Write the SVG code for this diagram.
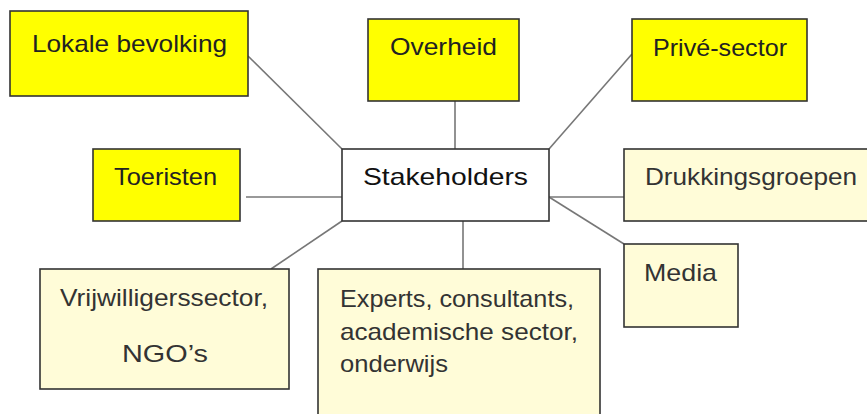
<svg xmlns="http://www.w3.org/2000/svg" width="867" height="414" viewBox="0 0 867 414">
<style>
.box{stroke:#333;stroke-width:1.6}
.y{fill:#ffff00}
.p{fill:#fffcd8}
.w{fill:#ffffff}
.c{stroke:#777;stroke-width:1.6;fill:none}
text{font-family:"Liberation Sans",Arial,sans-serif;font-size:24px;fill:#222}
.m{text-anchor:middle}
.g{fill:#333}
</style>
<rect width="867" height="414" fill="#ffffff"/>
<g id="connectors">
<line class="c" x1="248" y1="56" x2="342" y2="149"/>
<line class="c" x1="455" y1="101" x2="455" y2="149"/>
<line class="c" x1="549" y1="149" x2="632" y2="54"/>
<line class="c" x1="246" y1="197" x2="342" y2="197"/>
<line class="c" x1="549" y1="197" x2="624" y2="197"/>
<line class="c" x1="549" y1="197" x2="624" y2="244"/>
<line class="c" x1="342" y1="221" x2="271" y2="269"/>
<line class="c" x1="463" y1="221" x2="463" y2="269"/>
</g>
<g id="lokale">
<rect class="box y" x="10" y="11" width="238" height="85"/>
<text class="m" x="129.5" y="52" textLength="195" lengthAdjust="spacingAndGlyphs">Lokale bevolking</text>
</g>
<g id="overheid">
<rect class="box y" x="368" y="19" width="151" height="82"/>
<text class="m" x="443.5" y="55" textLength="107" lengthAdjust="spacingAndGlyphs">Overheid</text>
</g>
<g id="prive">
<rect class="box y" x="632" y="19" width="175" height="82"/>
<text class="m" x="720" y="56" textLength="134" lengthAdjust="spacingAndGlyphs">Privé-sector</text>
</g>
<g id="toeristen">
<rect class="box y" x="93" y="149" width="147" height="72"/>
<text class="m" x="165.5" y="185" textLength="103" lengthAdjust="spacingAndGlyphs">Toeristen</text>
</g>
<g id="stakeholders">
<rect class="box w" x="342" y="149" width="207" height="72"/>
<text class="m" x="445.5" y="185" textLength="165" lengthAdjust="spacingAndGlyphs" style="fill:#111">Stakeholders</text>
</g>
<g id="drukkingsgroepen">
<rect class="box p" x="624" y="149" width="250" height="72"/>
<text class="g" x="645" y="185" textLength="212" lengthAdjust="spacingAndGlyphs">Drukkingsgroepen</text>
</g>
<g id="media">
<rect class="box p" x="624" y="244" width="114" height="83"/>
<text class="m g" x="680.5" y="281" textLength="73" lengthAdjust="spacingAndGlyphs">Media</text>
</g>
<g id="vrijwilligers">
<rect class="box p" x="40" y="269" width="249" height="120"/>
<text class="m g" x="164" y="306" textLength="208" lengthAdjust="spacingAndGlyphs">Vrijwilligerssector,</text>
<text class="m g" x="165" y="362" textLength="86" lengthAdjust="spacingAndGlyphs">NGO’s</text>
</g>
<g id="experts">
<rect class="box p" x="318" y="269" width="282" height="160"/>
<text class="g" x="340" y="307" textLength="234" lengthAdjust="spacingAndGlyphs">Experts, consultants,</text>
<text class="g" x="340" y="340" textLength="238" lengthAdjust="spacingAndGlyphs">academische sector,</text>
<text class="g" x="340" y="372" textLength="108" lengthAdjust="spacingAndGlyphs">onderwijs</text>
</g>
</svg>
